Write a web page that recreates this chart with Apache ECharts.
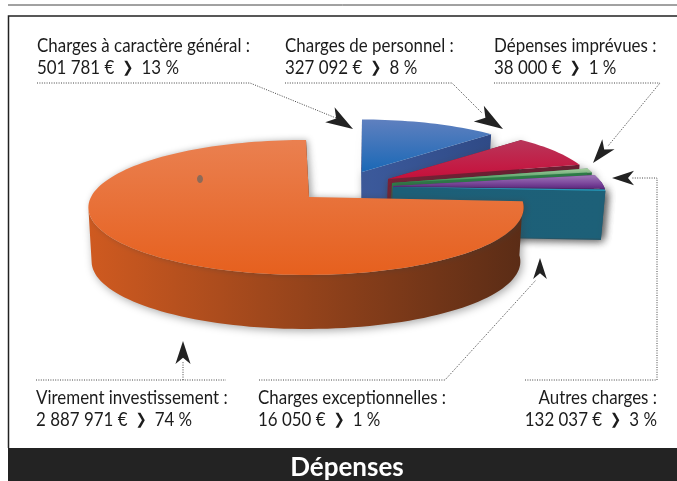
<!DOCTYPE html>
<html style="height:100%;">

<head>
  <meta charset="utf-8">
  <script src="https://cdn.jsdelivr.net/npm/echarts@6/dist/echarts.min.js"></script>
  <style>
    body { margin: 0; background: #fff; }
    #map { width: 677px; height: 481px; }
  </style>
</head>

<body>
  <div id="map"></div>
  <script>
    // clockwise from 12 o'clock
    const categories = ['Charges à caractère général', 'Charges de personnel', 'Dépenses imprévues', 'Autres charges', 'Charges exceptionnelles', 'Virement investissement'];
    const amounts = [501781, 327092, 38000, 132037, 16050, 2887971];
    const percents = [13, 8, 1, 3, 1, 74];
    const title = 'Dépenses';

    // top face gradient, wall colour
    const topColors = [['#5f80bf', '#1a68b6'], ['#b8365a', '#c80f3a'], ['#a8cfa0', '#2f8f4f'], ['#a07ab8', '#65288c'], ['#35a6c4', '#2090b0'], ['#ea8050', '#e6601e']];
    const wallColors = [['#3c5a9c', '#2f4a86'], ['#7d2036', '#6b1c30'], ['#2c8048', '#2c8048'], ['#5a2a80', '#4c2270'], ['#1c5f78', '#1d6078'], ['#cf5a20', '#5a2c16']];
    // apex of each exploded slice, arc shift, slice scale
    const apexes = [[362, 172, 0, 0.92], [388, 179, 0, 0.95], [392, 183, 0, 0.97], [393, 186, 0, 0.98], [393, 187, 0, 0.98], [309, 197, -3, 1]];
    const wallHeights = [49, 49, 49, 49, 49, 54];

    const R = 215, B = 65.9, K = 0.155;
    const total = amounts.reduce((a, b) => a + b, 0);

    function project(i, deg) {
      let a = deg * Math.PI / 180;
      let u = Math.sin(a), v = -Math.cos(a), w = 1 - K * v;
      let p = apexes[i];
      return [p[0] + p[2] + p[3] * R * u / w, p[1] + p[3] * B * v / w];
    }
    function lower(i, pt) {
      return [305 + (pt[0] - 305) * 0.985, pt[1] + wallHeights[i]];
    }
    function grad(c, horizontal) {
      return new echarts.graphic.LinearGradient(0, 0, horizontal ? 1 : 0, horizontal ? 0 : 1, [{ offset: 0, color: c[0] }, { offset: 1, color: c[1] }]);
    }

    let angle = 0;
    const sliceData = amounts.map((v, i) => {
      let from = angle;
      angle += v / total * 360;
      return [i, from, angle];
    });

    function renderSlice(params, api) {
      let i = api.value(0), from = api.value(1), to = api.value(2);
      let arc = [], front = [];
      let steps = Math.max(3, Math.ceil((to - from) / 2));
      for (let s = 0; s <= steps; s++) {
        let deg = from + (to - from) * s / steps;
        arc.push(project(i, deg));
        // only the part of the rim that faces the viewer gets a wall
        if (deg > 85 && deg < 262) front.push(project(i, deg));
      }
      let apex = [apexes[i][0], apexes[i][1]];
      let shadow = { shadowBlur: 9, shadowColor: 'rgba(60,60,60,0.45)', shadowOffsetX: 2, shadowOffsetY: 2 };
      let wall = pts => pts.concat(pts.map(p => lower(i, p)).reverse());
      let fillW = grad(wallColors[i], true);
      let children = [
        { type: 'polygon', shape: { points: wall([apex, arc[arc.length - 1]]) }, style: Object.assign({ fill: i == 5 ? wallColors[i][1] : fillW }, shadow) }
      ];
      if (i != 5) children.push({ type: 'polygon', shape: { points: wall([apex, arc[0]]) }, style: Object.assign({ fill: fillW }, shadow) });
      if (front.length > 1) children.push({ type: 'polygon', shape: { points: wall(front) }, style: Object.assign({ fill: fillW }, shadow) });
      let topStyle = { fill: grad(topColors[i]) };
      if (i == 5) Object.assign(topStyle, { shadowBlur: 6, shadowColor: 'rgba(60,60,60,0.4)', shadowOffsetX: 2, shadowOffsetY: 0 });
      children.push({ type: 'polygon', shape: { points: [apex].concat(arc) }, style: topStyle });
      return { type: 'group', children: children };
    }

    const fmt = n => String(n).replace(/\B(?=(\d{3})+$)/g, ' ');
    const rich = {
      n: { fontFamily: 'Lato', fontSize: 19, color: '#1c1c1c' },
      c: { fontFamily: 'DejaVu Sans', fontSize: 15, fontWeight: 'bold', color: '#c98a2c', padding: [0, 9, 0, 9] }
    };
    function label(i, x, y, align) {
      return {
        type: 'text', x: x, y: y, scaleX: 0.89, z: 20,
        style: {
          text: categories[i] + ' :\n{n|' + fmt(amounts[i]) + ' €}{c|❯}{n|' + percents[i] + ' %}',
          fontFamily: 'Lato', fontSize: 19, fill: '#1c1c1c', lineHeight: 22, align: align, verticalAlign: 'top', rich: rich
        }
      };
    }
    function dotted(points) {
      return { type: 'polyline', z: 15, shape: { points: points }, style: { stroke: '#444', lineWidth: 1, lineDash: [1, 1.4], fill: 'none' } };
    }
    // dart shaped head, tip + tail point
    function arrow(tip, tail) {
      let dx = tip[0] - tail[0], dy = tip[1] - tail[1], nx = -dy * 0.36, ny = dx * 0.36;
      return {
        type: 'polygon', z: 16,
        shape: { points: [tip, [tail[0] + nx - dx * 0.1, tail[1] + ny - dy * 0.1], [tail[0] + dx * 0.2, tail[1] + dy * 0.2], [tail[0] - nx - dx * 0.1, tail[1] - ny - dy * 0.1]] },
        style: { fill: '#222' }
      };
    }

    let chart = echarts.init(document.getElementById('map'), null, { renderer: 'canvas' });
    chart.setOption({
      animation: false,
      backgroundColor: '#fff',
      series: [{
        type: 'custom',
        coordinateSystem: 'none',
        silent: true,
        renderItem: renderSlice,
        data: sliceData
      }],
      graphic: [
        { type: 'line', z: 10, shape: { x1: 8, y1: 5, x2: 677, y2: 5 }, style: { stroke: '#444', lineWidth: 1 } },
        { type: 'polyline', z: 10, shape: { points: [[677, 16], [8.5, 16], [8.5, 448]] }, style: { stroke: '#222', lineWidth: 1.5, fill: 'none' } },
        { type: 'rect', z: 10, shape: { x: 8, y: 448, width: 669, height: 33 }, style: { fill: '#232323' } },
        { type: 'text', z: 20, x: 347, y: 468, style: { text: title, fontFamily: 'Lato', fontWeight: 'bold', fontSize: 26, fill: '#fff', align: 'center', verticalAlign: 'middle' } },
        label(0, 37, 35, 'left'),
        label(1, 285, 35, 'left'),
        label(2, 494, 35, 'left'),
        label(5, 36, 387, 'left'),
        label(4, 258, 387, 'left'),
        label(3, 657, 387, 'right'),
        dotted([[37, 83], [250, 83], [336, 118]]),
        dotted([[285, 83], [452, 83], [482, 113]]),
        dotted([[494, 83], [660, 83], [608, 146]]),
        dotted([[525, 380], [657, 380], [657, 178], [632, 178]]),
        dotted([[259, 380], [445, 380], [536, 280]]),
        dotted([[36, 380], [226, 380]]),
        dotted([[183, 380], [183, 362]]),
        arrow([353, 129], [332, 116]),
        arrow([503, 129], [481, 115]),
        arrow([593, 163], [607, 146]),
        arrow([612, 178], [632, 178]),
        arrow([540, 258], [540, 277]),
        arrow([183, 341], [183, 362]),
        { type: 'ellipse', z: 12, shape: { cx: 200, cy: 179, rx: 3, ry: 4 }, style: { fill: '#8d6a58' } }
      ]
    });
  </script>
</body>

</html>
